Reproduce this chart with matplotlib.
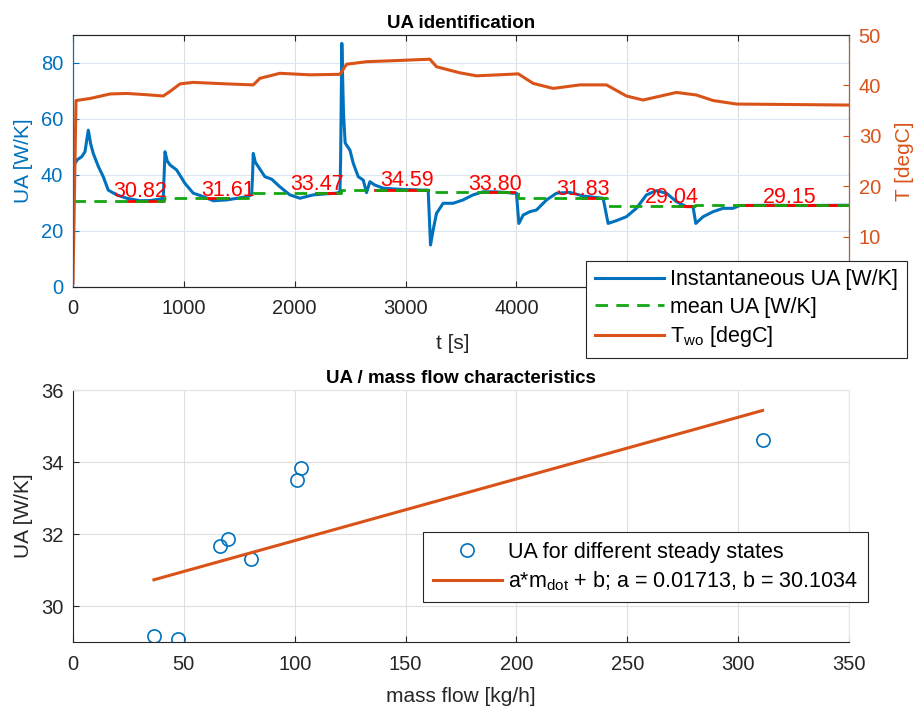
import matplotlib
matplotlib.use("Agg")
import matplotlib.pyplot as plt
import numpy as np

plt.rcParams["font.family"] = ["Liberation Sans", "DejaVu Sans"]
plt.rcParams["mathtext.default"] = "regular"

BLUE = "#0072BD"
ORANGE = "#D95319"
GREEN = "#14A514"
DARK = "#262626"

# --- top panel: instantaneous UA over time
ua_t = [15, 40, 78, 108, 138, 160, 183, 229, 273, 318, 394, 484, 604, 700, 800, 814,
        822, 830, 850, 875, 935, 1010, 1085, 1175, 1265, 1386, 1500, 1566, 1611,
        1620, 1626, 1645, 1671, 1731, 1792, 1866, 1956, 2047, 2167, 2290, 2378, 2408,
        2414, 2425, 2440, 2455, 2467, 2498, 2528, 2573, 2618, 2648, 2678, 2723,
        2798, 2900, 3000, 3100, 3159, 3204, 3225, 3249, 3279, 3339, 3429, 3519,
        3609, 3699, 3800, 3900, 3970, 4000, 4022, 4061, 4121, 4181, 4272, 4361,
        4481, 4601, 4782, 4827, 4902, 4992, 5082, 5173, 5263, 5353, 5443, 5533,
        5593, 5618, 5684, 5774, 5864, 5954, 6014, 6300, 6600, 7000]
ua_val = [44.0, 45.5, 46.5, 48.3, 56.0, 51.0, 47.7, 43.0, 39.4, 34.6, 32.9, 31.7, 30.8, 30.9, 31.5, 31.7,
          40.0, 48.3, 45.0, 43.6, 41.8, 37.0, 33.5, 32.3, 30.8, 31.1, 31.8, 32.3, 32.9,
          40.0, 47.7, 44.5, 43.0, 39.4, 38.5, 35.8, 32.9, 31.7, 32.9, 33.3, 33.5, 34.0,
          45.0, 87.0, 62.0, 51.5, 50.7, 48.9, 44.2, 39.4, 38.2, 33.7, 37.6, 36.4,
          35.3, 35.0, 34.8, 34.7, 34.6, 34.6, 15.0, 20.4, 26.3, 29.9, 29.9, 31.1,
          32.9, 34.0, 34.0, 33.8, 33.5, 33.5, 22.7, 25.7, 26.9, 27.5, 31.1, 33.5,
          33.8, 32.5, 31.7, 22.7, 23.7, 25.1, 28.1, 32.9, 34.4, 33.5, 30.5, 28.7,
          28.7, 22.7, 25.1, 26.9, 28.1, 28.1, 29.1, 29.2, 29.1, 29.2]

# water outlet temperature
temp_t = [0, 27, 153, 334, 484, 634, 814, 875, 965, 1085, 1386, 1626, 1686, 1866,
          2137, 2408, 2468, 2648, 2888, 3219, 3279, 3489, 3639, 3940, 4016, 4151,
          4331, 4572, 4812, 4992, 5142, 5443, 5623, 5774, 5984, 6500, 7000]
temp_val = [0.8, 37.0, 37.4, 38.3, 38.4, 38.2, 37.9, 38.8, 40.3, 40.6, 40.3, 40.1, 41.4, 42.4,
            42.1, 42.2, 44.2, 44.7, 44.9, 45.2, 43.7, 42.5, 41.9, 42.2, 42.3, 40.4,
            39.4, 40.1, 40.1, 37.9, 37.1, 38.6, 38.1, 37.0, 36.3, 36.2, 36.1]

# steady state segments
seg_edges = [0, 820, 1620, 2420, 3225, 4015, 4820, 5615, 7000]
seg_mean = [30.82, 31.61, 33.47, 34.59, 33.80, 31.83, 29.04, 29.15]
ss_start = [500, 1180, 2190, 2720, 3700, 4600, 5470, 6010]
ss_end = [814, 1400, 2410, 3200, 3980, 4800, 5600, 7000]
label_t = [363, 1160, 1957, 2768, 3565, 4361, 5158, 6225]
label_y = [34.1, 34.6, 36.5, 38.0, 36.7, 34.9, 32.0, 32.0]

# --- bottom panel: UA vs mass flow
mass_flow = [36.5, 47.5, 66.5, 70, 80.5, 101, 103, 311]
ua_ss = [29.17, 29.08, 31.67, 31.86, 31.30, 33.50, 33.82, 34.60]
fit_a = 0.01713
fit_b = 30.1034

fig = plt.figure(figsize=(9.17, 7.12), dpi=100)
W, H = 917, 712


def fig_rect(x0, y0, x1, y1):
    return [x0 / W, 1 - y1 / H, (x1 - x0) / W, (y1 - y0) / H]


def style_ticks(ax):
    ax.tick_params(direction="in", length=4, width=0.8, labelsize=14.5, pad=7)


# ---------- top
ax1 = fig.add_axes(fig_rect(73, 35, 849, 287))
ax2 = ax1.twinx()

h_ua, = ax1.plot(ua_t, ua_val, color=BLUE, lw=2.2, label="Instantaneous UA [W/K]", zorder=3)
for s, e, m in zip(ss_start, ss_end, seg_mean):
    ax1.plot([s, e], [m, m], color="red", lw=2, zorder=4)
h_mean, = ax1.step(seg_edges, seg_mean + [seg_mean[-1]], where="post", color=GREEN,
                   lw=2, dashes=(4.5, 3), label="mean UA [W/K]", zorder=5)
for x, y, m in zip(label_t, label_y, seg_mean):
    ax1.text(x, y, f"{m:.2f}", color="red", fontsize=15.5, ha="left", va="center", zorder=6)
h_t, = ax2.plot(temp_t, temp_val, color=ORANGE, lw=2.2, label="T$_{wo}$ [degC]")

ax1.set_xlim(0, 7000)
ax1.set_ylim(0, 90)
ax2.set_ylim(0, 50)
ax1.set_xticks(range(0, 7001, 1000))
ax1.set_yticks(range(0, 81, 20))
ax2.set_yticks(range(0, 51, 10))

ax1.grid(True, axis="x", color="#DEDEDE", lw=0.8)
ax1.grid(True, axis="y", color="#DCE7F2", lw=0.8)
ax1.set_axisbelow(True)

style_ticks(ax1)
style_ticks(ax2)
ax1.tick_params(axis="x", colors=DARK, top=True, pad=9)
ax1.tick_params(axis="y", colors=BLUE)
ax2.tick_params(axis="y", colors=ORANGE)
ax1.spines["left"].set_color(BLUE)
ax2.spines["left"].set_color(BLUE)
ax2.spines["right"].set_color(ORANGE)
for a in (ax1, ax2):
    a.spines["top"].set_color(DARK)
    a.spines["bottom"].set_color(DARK)

ax1.set_title("UA identification", fontsize=13.5, fontweight="bold", pad=5,
              family=["Liberation Sans Narrow", "Liberation Sans"])
ax1.set_xlabel("t [s]", fontsize=15, color=DARK)
ax1.set_ylabel("UA [W/K]", fontsize=15, color=BLUE)
ax2.set_ylabel("T [degC]", fontsize=15, color=ORANGE)
ax1.yaxis.set_label_coords(-0.052, 0.5)
ax2.yaxis.set_label_coords(1.059, 0.5)
ax1.xaxis.set_label_coords(0.49, -0.185)

leg = ax2.legend([h_ua, h_mean, h_t], [h.get_label() for h in (h_ua, h_mean, h_t)],
                 loc="upper right", bbox_to_anchor=(906.7 / W, 1 - 260.7 / H),
                 bbox_transform=fig.transFigure, fontsize=15.5, handlelength=3.2,
                 fancybox=False, framealpha=1, edgecolor=DARK, borderaxespad=0,
                 labelspacing=0.3, handletextpad=0.3, borderpad=0.4)
leg.get_frame().set_linewidth(0.8)

# ---------- bottom
ax3 = fig.add_axes(fig_rect(73, 390, 849, 642))
ax3.plot(mass_flow, ua_ss, "o", mfc="none", mec=BLUE, ms=9.5, mew=1.2,
         label="UA for different steady states")
fit_x = np.array([min(mass_flow), max(mass_flow)])
ax3.plot(fit_x, fit_a * fit_x + fit_b, color=ORANGE, lw=2.2,
         label=f"a*m$_{{dot}}$ + b; a = {fit_a}, b = {fit_b}")
ax3.set_xlim(0, 350)
ax3.set_ylim(29, 36)
ax3.set_xticks(range(0, 351, 50))
ax3.set_yticks(range(30, 37, 2))
ax3.grid(True, color="#DEDEDE", lw=0.8)
ax3.set_axisbelow(True)
style_ticks(ax3)
ax3.tick_params(colors=DARK)
ax3.tick_params(axis="x", pad=9)
ax3.spines["top"].set_color("#E6E6E6")
ax3.spines["right"].set_color("#E6E6E6")
ax3.spines["left"].set_color(DARK)
ax3.spines["bottom"].set_color(DARK)
ax3.set_title("UA / mass flow characteristics", fontsize=13.5, fontweight="bold", pad=5,
              family=["Liberation Sans Narrow", "Liberation Sans"])
ax3.set_xlabel("mass flow [kg/h]", fontsize=15, color=DARK)
ax3.set_ylabel("UA [W/K]", fontsize=15, color=DARK)
ax3.yaxis.set_label_coords(-0.052, 0.5)
ax3.xaxis.set_label_coords(0.5, -0.18)

leg2 = ax3.legend(loc="upper right", bbox_to_anchor=(868 / W, 1 - 532 / H),
                  bbox_transform=fig.transFigure, fontsize=15.5, handlelength=3.2,
                  fancybox=False, framealpha=1, edgecolor=DARK, borderaxespad=0,
                  labelspacing=0.3, handletextpad=0.3, borderpad=0.45)
leg2.get_frame().set_linewidth(0.8)

fig.savefig("out.png", dpi=100)
